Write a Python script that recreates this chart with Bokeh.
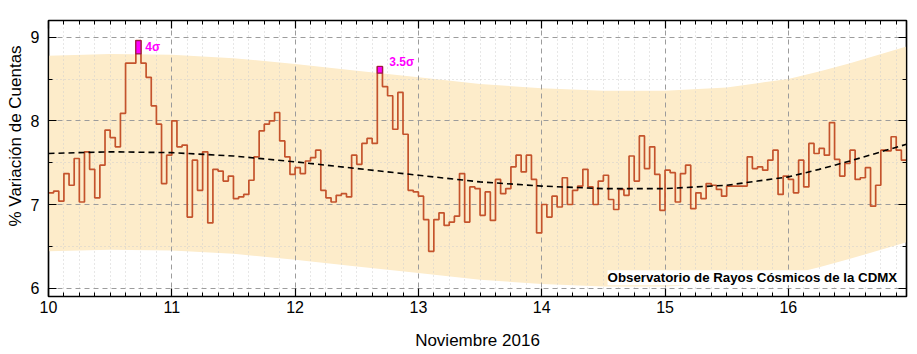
from bokeh.plotting import figure
from bokeh.models import FixedTicker, LinearAxis, Range1d, Label, Title
from bokeh.embed import file_html
from bokeh.resources import INLINE

# ---------------- data ----------------
start_day = 10.0          # 10 de noviembre 2016, 00:00
bin_hours = 1.0
counts_pct = [
    7.14, 7.16, 7.04, 7.37, 7.23, 7.55, 7.03, 7.63, 7.42, 7.08,
    7.47, 7.89, 7.80, 7.69, 8.09, 8.69, 8.69, 8.96, 8.69, 8.52,
    8.18, 7.96, 7.25, 7.59, 8.00, 7.69, 7.71, 6.85, 7.53, 7.17,
    7.63, 6.78, 7.42, 7.40, 7.28, 7.34, 7.07, 7.09, 7.12, 7.29,
    7.57, 7.88, 7.96, 8.00, 8.10, 7.76, 7.57, 7.36, 7.44, 7.37,
    7.52, 7.56, 7.65, 7.17, 7.08, 7.03, 7.11, 7.13, 7.09, 7.59,
    7.48, 7.73, 7.79, 7.73, 8.65, 8.41, 8.30, 7.90, 8.34, 7.84,
    7.17, 7.15, 7.10, 6.82, 6.44, 6.82, 6.90, 6.75, 6.79, 6.86,
    7.37, 6.79, 7.21, 7.19, 6.87, 7.15, 6.81, 7.30, 7.13, 7.19,
    7.45, 7.59, 7.39, 7.59, 7.30, 6.66, 7.00, 6.85, 7.10, 6.97,
    7.32, 7.00, 7.17, 7.22, 7.42, 7.21, 7.00, 7.28, 7.35, 7.06,
    6.94, 7.18, 7.11, 7.58, 7.28, 7.82, 7.43, 7.69, 7.36, 6.93,
    7.41, 7.38, 7.03, 7.37, 7.47, 6.95, 7.14, 7.07, 7.25, 7.23,
    7.18, 7.10, 7.22, 7.22, 7.22, 7.22, 7.57, 7.43, 7.45, 7.41,
    7.53, 7.65, 7.12, 7.34, 7.30, 7.14, 7.53, 7.21, 7.73, 7.61,
    7.67, 7.59, 7.98, 7.54, 7.34, 7.49, 7.65, 7.30, 7.32, 7.44,
    6.98, 7.23, 7.65, 7.64, 7.81, 7.65, 7.53,
]

trend_day = [10.0, 10.5, 11.0, 11.5, 12.0, 12.5, 13.0, 13.5, 14.0, 14.5,
             15.0, 15.5, 15.75, 16.0, 16.25, 16.5, 16.958]
trend_pct = [7.61, 7.63, 7.62, 7.58, 7.51, 7.43, 7.35, 7.27, 7.22, 7.19,
             7.19, 7.23, 7.28, 7.33, 7.42, 7.52, 7.72]
band_upper = [8.78, 8.80, 8.79, 8.75, 8.68, 8.60, 8.52, 8.44, 8.39, 8.36,
              8.36, 8.40, 8.45, 8.50, 8.59, 8.69, 8.89]
band_lower = [6.44, 6.46, 6.45, 6.41, 6.34, 6.26, 6.18, 6.10, 6.05, 6.02,
              6.02, 6.06, 6.11, 6.16, 6.25, 6.35, 6.55]

alert_bins = [17, 64]
alert_floor = [8.80, 8.57]
alert_text = ["4σ", "3.5σ"]

x_tick_days = [10, 11, 12, 13, 14, 15, 16]
y_tick_vals = [6, 7, 8, 9]
y_minor_vals = [6.5, 7.5, 8.5]

x_title = "Noviembre 2016"
y_title = "% Variación de Cuentas"
credit = "Observatorio de Rayos Cósmicos de la CDMX"

# ---------------- derived ----------------
n = len(counts_pct)
edges = [start_day + k * bin_hours / 24.0 for k in range(n + 1)]
step_y = counts_pct + [counts_pct[-1]]
x_end = edges[-1]

FONT = "Liberation Sans"

p = figure(width=917, height=354, output_backend="svg", toolbar_location=None,
           x_range=Range1d(start_day, x_end), y_range=Range1d(5.9, 9.2),
           min_border_left=47, min_border_right=11, min_border_top=20,
           min_border_bottom=58)
p.background_fill_color = "white"
p.border_fill_color = "white"
p.outline_line_color = "black"
p.outline_line_width = 1.5

x_minor = [start_day + k / 8.0 for k in range(0, 8 * 7 + 1) if k % 8 != 0]
xt = FixedTicker(ticks=x_tick_days, minor_ticks=x_minor)
yt = FixedTicker(ticks=y_tick_vals, minor_ticks=y_minor_vals)

# band (drawn below the grid)
p.varea(x=trend_day, y1=band_lower, y2=band_upper, fill_color="#fdecca",
        fill_alpha=1.0, level="image")

# grids
for g, t in ((p.xgrid, xt), (p.ygrid, yt)):
    g.ticker = t
    g.grid_line_color = "#9c9c9c"
    g.grid_line_dash = "5 4"
    g.grid_line_width = 1
    g.minor_grid_line_color = "#cfcfcf"
    g.minor_grid_line_dash = "1 3"
    g.minor_grid_line_width = 1

# step series
p.step(edges, step_y, mode="after", line_color="#c4532c", line_width=1.7)

# trend
p.line(trend_day, trend_pct, line_color="black", line_width=1.6, line_dash="6 4")

# alert boxes
p.quad(left=[edges[b] for b in alert_bins], right=[edges[b + 1] for b in alert_bins],
       top=[counts_pct[b] for b in alert_bins], bottom=alert_floor,
       fill_color="#ff00ff", line_color="#9a1a48", line_width=1.2)

for b, t, dx, dy in zip(alert_bins, alert_text, [0.035, 0.055], [-0.075, 0.05]):
    p.text(x=[edges[b + 1] + dx], y=[counts_pct[b] + dy], text=[t],
           text_color="#ff00ff", text_font_size="12px", text_font_style="bold",
           text_baseline="middle", text_align="left",
           text_font={"value": FONT})

# axes
def style_axis(ax, ticker, ticks, show_labels):
    ax.ticker = ticker
    ax.axis_line_color = "black"
    ax.axis_line_width = 1.2
    ax.major_tick_in = 8
    ax.major_tick_out = 0
    ax.minor_tick_in = 4
    ax.minor_tick_out = 0
    ax.major_tick_line_color = "black"
    ax.minor_tick_line_color = "black"
    ax.major_tick_line_width = 1.2
    ax.minor_tick_line_width = 1
    if show_labels:
        ax.major_label_text_font = FONT
        ax.major_label_text_font_size = "16px"
        ax.major_label_text_color = "black"
    else:
        ax.major_label_overrides = {t: "" for t in ticks}
        ax.major_label_standoff = 0

style_axis(p.xaxis[0], xt, x_tick_days, True)
style_axis(p.yaxis[0], yt, y_tick_vals, True)
p.xaxis[0].major_label_standoff = 4
p.yaxis[0].major_label_standoff = 9

p.xaxis[0].axis_label = x_title
p.xaxis[0].axis_label_text_font = FONT
p.xaxis[0].axis_label_text_font_size = "17px"
p.xaxis[0].axis_label_text_font_style = "normal"
p.xaxis[0].axis_label_text_color = "black"
p.xaxis[0].axis_label_standoff = 15

top_ax = LinearAxis()
right_ax = LinearAxis()
p.add_layout(top_ax, "above")
p.add_layout(right_ax, "right")
style_axis(top_ax, xt, x_tick_days, False)
style_axis(right_ax, yt, y_tick_vals, False)

# y-axis title, placed off-centre as in the reference
p.add_layout(Title(text=y_title, align="left", offset=70, text_font=FONT,
                   text_font_size="17px", text_font_style="normal",
                   text_color="black", standoff=6), "left")

xs = (x_end - start_day) / 859.0
ys = 1 / 83.8
p.add_layout(Label(x=start_day + (897 - 47.3) * xs, y=9 - (277.5 - 36.5) * ys,
                   text=credit, text_align="right", text_baseline="middle",
                   text_font=FONT, text_font_size="13.3px", text_font_style="bold",
                   text_color="black", background_fill_color="white"))

open("out.html", "w").write(file_html(p, INLINE))
